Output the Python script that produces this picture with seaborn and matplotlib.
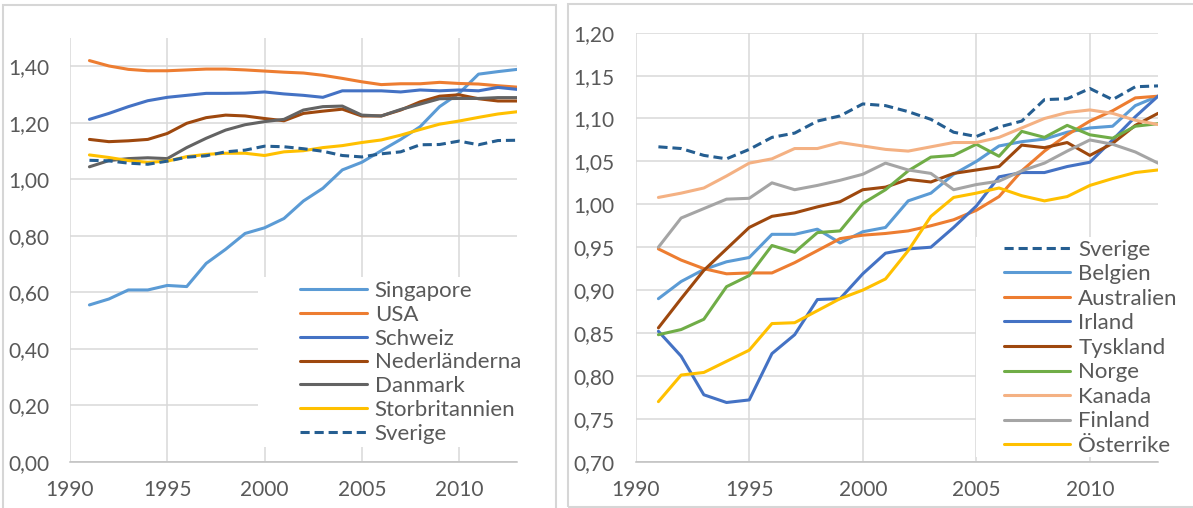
import matplotlib
matplotlib.use("Agg")
import matplotlib.pyplot as plt
import seaborn as sns
from matplotlib.patches import Rectangle
from matplotlib.ticker import FuncFormatter, FixedLocator

years = list(range(1991, 2014))

# Left chart
singapore = [0.555, 0.576, 0.608, 0.608, 0.624, 0.620, 0.702, 0.752, 0.808, 0.828, 0.861, 0.923,
             0.968, 1.033, 1.060, 1.101, 1.141, 1.186, 1.257, 1.304, 1.372, 1.381, 1.389]
usa = [1.420, 1.401, 1.389, 1.384, 1.384, 1.387, 1.390, 1.390, 1.387, 1.383, 1.379, 1.376,
       1.368, 1.357, 1.345, 1.335, 1.338, 1.338, 1.343, 1.339, 1.337, 1.331, 1.326]
schweiz = [1.212, 1.233, 1.257, 1.278, 1.290, 1.297, 1.304, 1.304, 1.305, 1.309, 1.302, 1.297,
           1.290, 1.313, 1.313, 1.313, 1.309, 1.316, 1.313, 1.316, 1.313, 1.325, 1.318]
nederlanderna = [1.141, 1.133, 1.136, 1.141, 1.162, 1.198, 1.218, 1.227, 1.224, 1.215, 1.207, 1.233,
                 1.241, 1.248, 1.224, 1.224, 1.245, 1.274, 1.294, 1.299, 1.285, 1.277, 1.277]
danmark = [1.044, 1.066, 1.073, 1.076, 1.073, 1.112, 1.145, 1.174, 1.193, 1.204, 1.212, 1.245,
           1.257, 1.259, 1.227, 1.224, 1.247, 1.266, 1.285, 1.286, 1.286, 1.289, 1.289]
storbritannien = [1.086, 1.077, 1.066, 1.060, 1.064, 1.080, 1.088, 1.092, 1.092, 1.084, 1.097, 1.101,
                  1.112, 1.119, 1.130, 1.139, 1.156, 1.176, 1.195, 1.206, 1.219, 1.231, 1.239]
sverige = [1.067, 1.065, 1.057, 1.053, 1.064, 1.078, 1.083, 1.097, 1.103, 1.117, 1.115, 1.108,
           1.099, 1.084, 1.079, 1.090, 1.097, 1.122, 1.123, 1.135, 1.122, 1.137, 1.138]

# Right chart
belgien = [0.890, 0.910, 0.924, 0.933, 0.938, 0.965, 0.965, 0.971, 0.955, 0.968, 0.973, 1.004,
           1.013, 1.035, 1.050, 1.068, 1.073, 1.076, 1.084, 1.089, 1.091, 1.115, 1.126]
australien = [0.948, 0.935, 0.925, 0.919, 0.920, 0.920, 0.932, 0.946, 0.960, 0.964, 0.966, 0.969,
              0.975, 0.982, 0.993, 1.009, 1.039, 1.062, 1.081, 1.097, 1.109, 1.124, 1.126]
irland = [0.852, 0.823, 0.778, 0.769, 0.772, 0.826, 0.848, 0.889, 0.890, 0.919, 0.943, 0.948,
          0.950, 0.973, 0.998, 1.032, 1.037, 1.037, 1.044, 1.049, 1.075, 1.102, 1.126]
tyskland = [0.856, 0.890, 0.923, 0.948, 0.973, 0.986, 0.990, 0.997, 1.003, 1.017, 1.020, 1.029,
            1.026, 1.036, 1.040, 1.044, 1.069, 1.066, 1.072, 1.057, 1.071, 1.092, 1.106]
norge = [0.848, 0.854, 0.866, 0.904, 0.917, 0.952, 0.944, 0.967, 0.969, 1.001, 1.017, 1.039,
         1.055, 1.057, 1.070, 1.056, 1.085, 1.078, 1.092, 1.081, 1.077, 1.091, 1.094]
kanada = [1.008, 1.013, 1.019, 1.033, 1.048, 1.053, 1.065, 1.065, 1.072, 1.068, 1.064, 1.062,
          1.067, 1.072, 1.072, 1.078, 1.089, 1.100, 1.107, 1.110, 1.106, 1.098, 1.093]
finland = [0.950, 0.984, 0.995, 1.006, 1.007, 1.025, 1.017, 1.022, 1.028, 1.035, 1.048, 1.040,
           1.036, 1.017, 1.023, 1.027, 1.039, 1.048, 1.062, 1.075, 1.070, 1.061, 1.048]
osterrike = [0.770, 0.801, 0.804, 0.817, 0.830, 0.861, 0.862, 0.876, 0.890, 0.900, 0.913, 0.946,
             0.986, 1.008, 1.013, 1.019, 1.010, 1.004, 1.009, 1.022, 1.030, 1.037, 1.040]

left_series = [("Singapore", singapore, "#5B9BD5", "-"),
               ("USA", usa, "#ED7D31", "-"),
               ("Schweiz", schweiz, "#4472C4", "-"),
               ("Nederländerna", nederlanderna, "#9E480E", "-"),
               ("Danmark", danmark, "#636363", "-"),
               ("Storbritannien", storbritannien, "#FFC000", "-"),
               ("Sverige", sverige, "#255E91", "--")]
right_series = [("Sverige", sverige, "#255E91", "--"),
                ("Belgien", belgien, "#5B9BD5", "-"),
                ("Australien", australien, "#ED7D31", "-"),
                ("Irland", irland, "#4472C4", "-"),
                ("Tyskland", tyskland, "#9E480E", "-"),
                ("Norge", norge, "#70AD47", "-"),
                ("Kanada", kanada, "#F4B183", "-"),
                ("Finland", finland, "#A5A5A5", "-"),
                ("Österrike", osterrike, "#FFC000", "-")]

x_ticks = [1990, 1995, 2000, 2005, 2010]
left_yticks = [0.0, 0.2, 0.4, 0.6, 0.8, 1.0, 1.2, 1.4]
right_yticks = [0.70, 0.75, 0.80, 0.85, 0.90, 0.95, 1.00, 1.05, 1.10, 1.15, 1.20]

sns.set_style("white")
plt.rcParams["font.family"] = ["Lato", "DejaVu Sans"]

W, H = 1193, 508
fig = plt.figure(figsize=(W / 100, H / 100), dpi=100)

TXT = "#595959"
GRID = "#D9D9D9"
FS = 15
LFS = 16

def px_rect(x0, y0, x1, y1):
    return [x0 / W, 1 - y1 / H, (x1 - x0) / W, (y1 - y0) / H]

# panel borders
for (x0, y0, x1, y1) in [(3, 5, 556, 520), (568, 4, 1210, 507)]:
    fig.add_artist(Rectangle((x0 / W, 1 - y1 / H), (x1 - x0) / W, (y1 - y0) / H,
                             transform=fig.transFigure, fill=False,
                             edgecolor="#D6D6D6", lw=1.5, zorder=0))

axL = fig.add_axes(px_rect(70, 38, 517.4, 461.7))
axR = fig.add_axes(px_rect(635.7, 32.7, 1158, 461.7))

dash = (0, (3.0, 1.6))

def draw(ax, series):
    handles = []
    for name, vals, col, ls in series:
        sns.lineplot(x=years, y=vals, ax=ax, color=col, lw=2.2,
                     linestyle=dash if ls == "--" else "-", label=name, legend=False,
                     zorder=3)
        handles.append(ax.lines[-1])
    return handles

hL = draw(axL, left_series)
hR = draw(axR, right_series)

fmt = FuncFormatter(lambda v, p: f"{v:.2f}".replace(".", ","))
for ax, yt, ylim in [(axL, left_yticks, (0, 1.5)), (axR, right_yticks, (0.70, 1.20))]:
    ax.set_xlim(1990, 2013)
    ax.set_ylim(*ylim)
    ax.xaxis.set_major_locator(FixedLocator(x_ticks))
    ax.yaxis.set_major_locator(FixedLocator(yt))
    ax.yaxis.set_major_formatter(fmt)
    ax.grid(True, color=GRID, lw=1.1)
    ax.set_axisbelow(True)
    for s in ["top", "right", "left"]:
        ax.spines[s].set_visible(False)
    ax.spines["bottom"].set_color("#BFBFBF")
    ax.spines["bottom"].set_linewidth(1.1)
    ax.tick_params(axis="both", length=0, labelsize=FS, colors=TXT)
    ax.tick_params(axis="y", pad=15)
    ax.tick_params(axis="x", pad=13)
    ax.set_xlabel("")
    ax.set_ylabel("")
    ax.patch.set_alpha(0)

# white legend areas hiding gridlines
axL.add_patch(Rectangle((0.42, 0.035), 0.58, 0.401, transform=axL.transAxes,
                        facecolor="white", edgecolor="none", zorder=1))
axR.add_patch(Rectangle((0.652, 0.01), 0.348, 0.514, transform=axR.transAxes,
                        facecolor="white", edgecolor="none", zorder=1))

common = dict(frameon=False, borderpad=0, borderaxespad=0, handlelength=3.0,
              handletextpad=0.36, fontsize=LFS, labelcolor=TXT, loc="upper left",
              bbox_transform=fig.transFigure)
axL.legend(hL, [s[0] for s in left_series], bbox_to_anchor=(300 / W, 1 - 281 / H),
           labelspacing=0.17, **common)
axR.legend(hR, [s[0] for s in right_series], bbox_to_anchor=(1003.6 / W, 1 - 239.5 / H),
           labelspacing=0.205, **common)

fig.savefig("out.png", dpi=100, facecolor="white")
